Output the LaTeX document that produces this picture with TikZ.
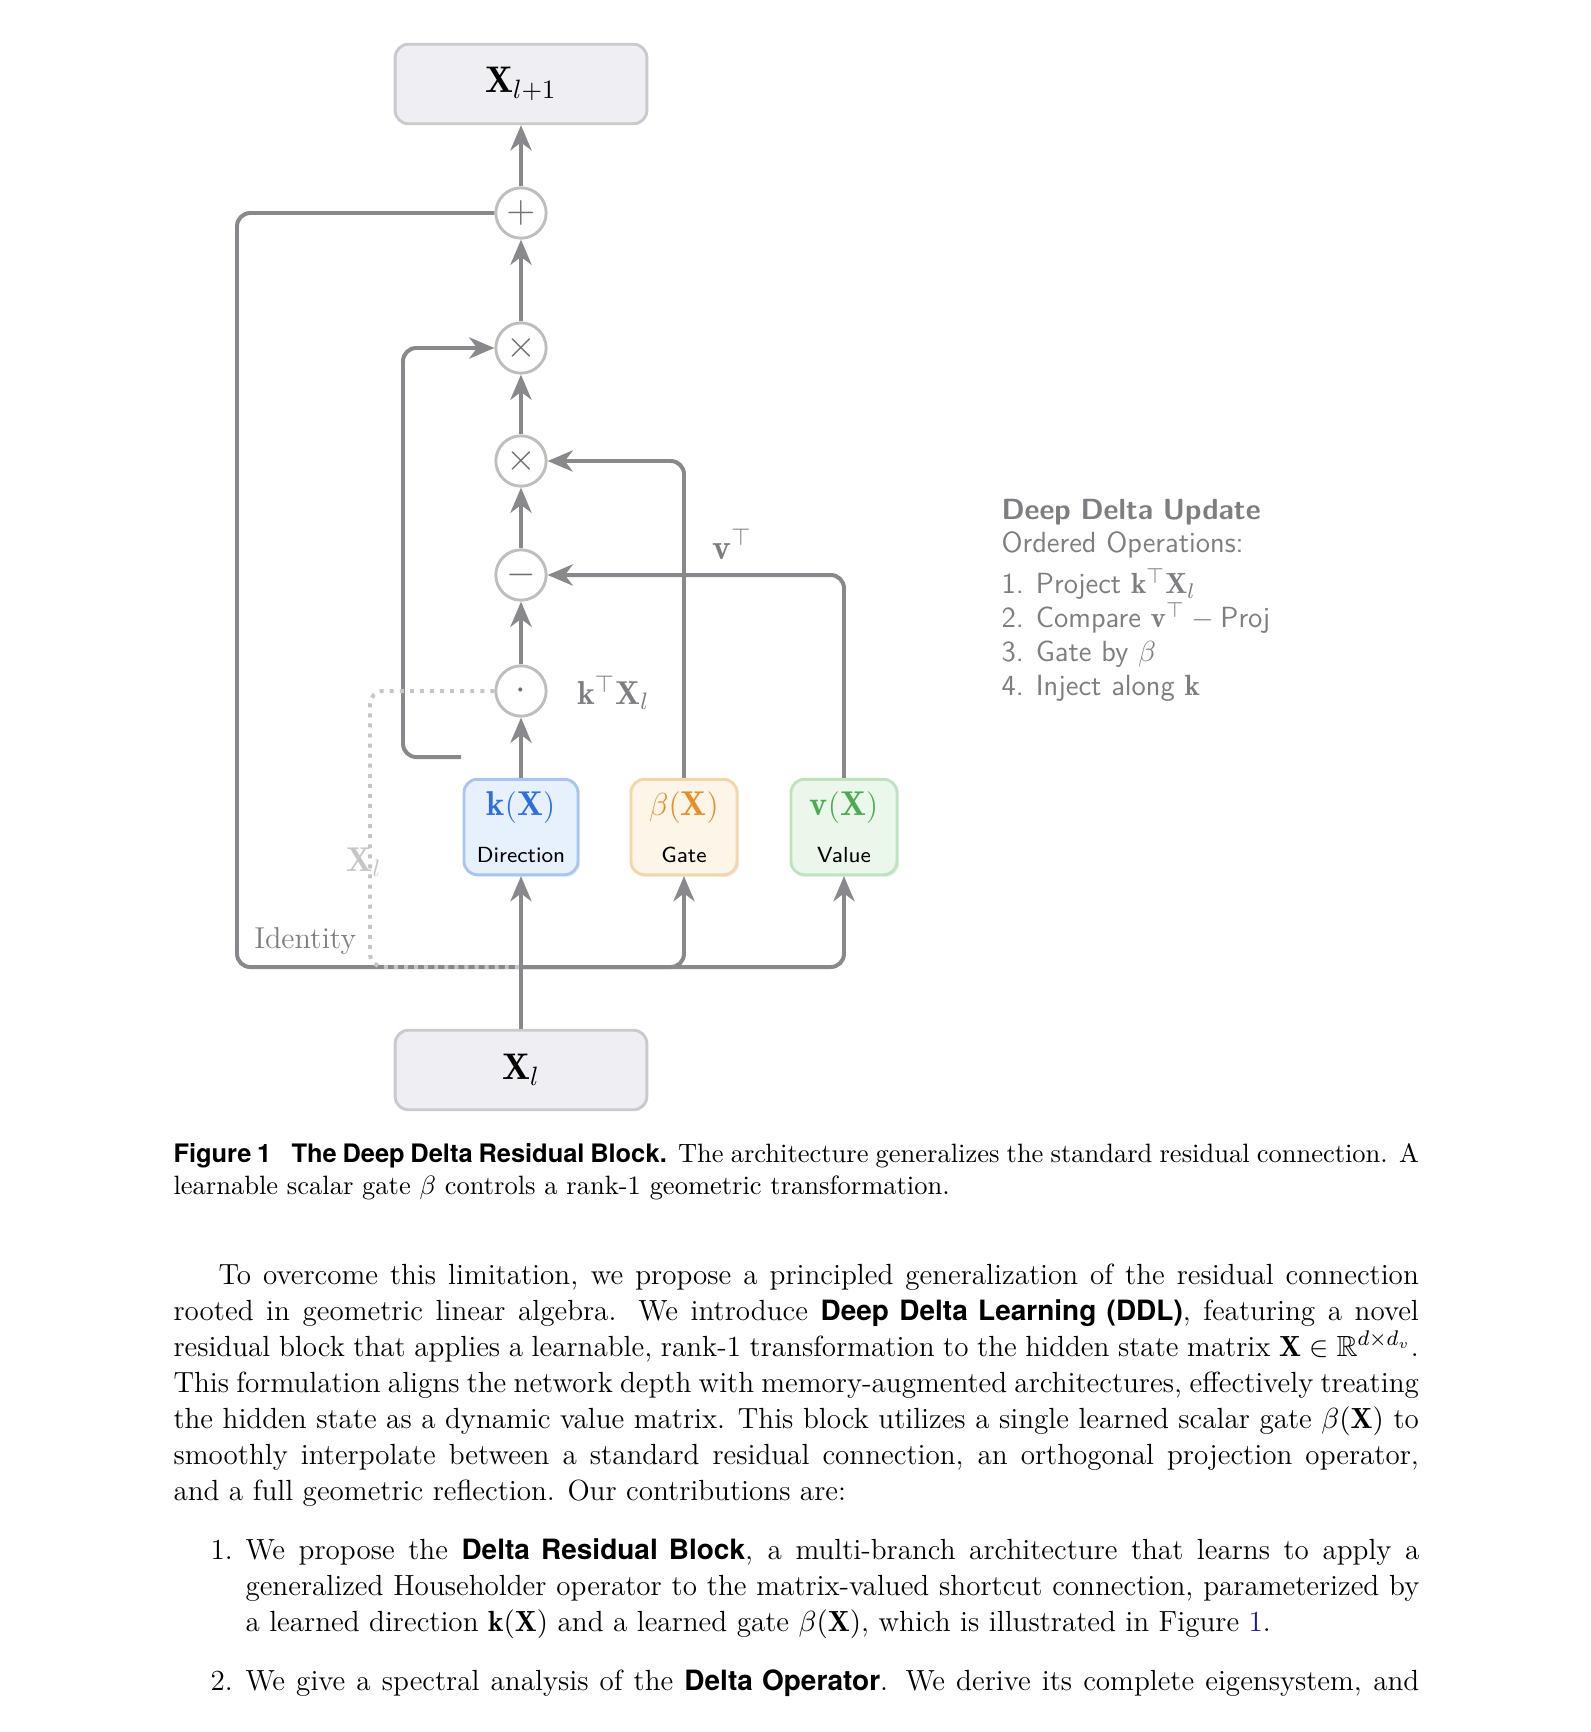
\documentclass[tikz,border=0pt]{standalone}
\usepackage{amsmath, amssymb}
\usepackage{fontspec}
\newfontfamily\heros[Scale=0.96]{TeX Gyre Heros}
\usetikzlibrary{arrows.meta, shadows}

\definecolor{lineg}{RGB}{136,136,141}
\definecolor{ringg}{RGB}{190,190,192}
\definecolor{opg}{RGB}{112,112,116}
\definecolor{boxfill}{RGB}{239,239,243}
\definecolor{boxline}{RGB}{202,202,206}
\definecolor{dirblue}{RGB}{45,110,228}
\definecolor{dirfill}{RGB}{231,240,253}
\definecolor{dirline}{RGB}{168,197,240}
\definecolor{gateorange}{RGB}{232,142,40}
\definecolor{gatefill}{RGB}{253,245,232}
\definecolor{gateline}{RGB}{244,214,170}
\definecolor{valgreen}{RGB}{76,172,80}
\definecolor{valfill}{RGB}{235,247,235}
\definecolor{valline}{RGB}{190,227,190}
\definecolor{labelg}{RGB}{126,126,130}
\definecolor{faintg}{RGB}{198,198,200}
\definecolor{linkblue}{RGB}{28,28,140}

\tikzset{
  statebox/.style={draw=boxline, fill=boxfill, line width=1.1pt, rounded corners=5pt,
    minimum width=95pt, minimum height=30pt, font=\fontsize{14}{16}\selectfont},
  opnode/.style={circle, draw=ringg, fill=white, line width=1.1pt, minimum size=19pt,
    inner sep=0pt, text=opg, font=\fontsize{14}{16}\selectfont},
  branch/.style={rounded corners=5pt, line width=1.1pt, minimum width=40pt, minimum height=36pt,
    text width=38pt, align=center, inner sep=1pt, font=\fontsize{13}{14}\selectfont,
    drop shadow={shadow xshift=0.8pt, shadow yshift=-0.8pt, opacity=0.15}},
  flow/.style={draw=lineg, line width=1.5pt, rounded corners=5pt,
    -{Stealth[length=9.5pt, width=8pt, inset=3pt]}},
  wire/.style={draw=lineg, line width=1.5pt, rounded corners=5pt},
  dotskip/.style={draw=faintg, line width=1.5pt, rounded corners=5pt, dash pattern=on 1.5pt off 2.3pt},
  tag/.style={text=labelg, font=\fontsize{12.5}{14}\selectfont},
  prose/.style={anchor=base west, inner sep=0pt, align=justify},
}

\begin{document}
\begin{tikzpicture}[x=0.3774pt, y=-0.3774pt]
  \useasboundingbox (0,0) rectangle (1590,1732);

  % block in / out and the chain of operations
  \node[statebox] (xout) at (521,84) {$\mathbf{X}_{l+1}$};
  \node[statebox] (xin) at (521,1070) {$\mathbf{X}_{l}$};
  \node[opnode] (add) at (521,213) {$+$};
  \node[opnode] (inj) at (521,348) {$\times$};
  \node[opnode] (gate) at (521,461) {$\times$};
  \node[opnode] (cmp) at (521,575) {$-$};
  \node[opnode] (proj) at (521,691) {$\cdot$};

  % branches
  \node[branch, draw=dirline, fill=dirfill, minimum width=43pt] (kx) at (521,827)
    {{\color{dirblue}$\mathbf{k}(\mathbf{X})$}\\[3.7pt]{\sffamily\fontsize{8.25}{9}\selectfont Direction}};
  \node[branch, draw=gateline, fill=gatefill] (bx) at (684,827)
    {{\color{gateorange}$\beta(\mathbf{X})$}\\[3.7pt]{\sffamily\fontsize{8.25}{9}\selectfont Gate}};
  \node[branch, draw=valline, fill=valfill] (vx) at (844,827)
    {{\color{valgreen}$\mathbf{v}(\mathbf{X})$}\\[3.7pt]{\sffamily\fontsize{8.25}{9}\selectfont Value}};

  \coordinate (split) at (521,967);
  \coordinate (idturn) at (237,213);
  \coordinate (kfork) at (461,757);
  \coordinate (loopturn) at (403,348);
  \coordinate (dotturn) at (370,967);

  % connectors
  \draw[flow] (xin) -- (kx);
  \draw[wire] (split) -| (idturn) -- (add);
  \draw[flow] (split) -| (bx);
  \draw[flow] (split) -| (vx);
  \draw[flow] (kx) -- (proj);
  \draw[flow] (proj) -- (cmp);
  \draw[flow] (cmp) -- (gate);
  \draw[flow] (gate) -- (inj);
  \draw[flow] (inj) -- (add);
  \draw[flow] (add) -- (xout);
  \draw[flow] (bx) |- (gate);
  \draw[flow] (vx) |- (cmp);
  \draw[flow] (kfork) -| (loopturn) -- (inj);
  \draw[dotskip] (proj) -| (dotturn) -- (split);

  % labels
  \node[tag, font=\fontsize{13.5}{15}\selectfont] (vlabel) at (732,544) {$\mathbf{v}^\top$};
  \node[tag, anchor=west] (klabel) at (568,693) {$\mathbf{k}^\top\mathbf{X}_l$};
  \node[tag, text=faintg, font=\fontsize{13}{15}\selectfont] (xlabel) at (364,862) {$\mathbf{X}_l$};
  \node[tag, anchor=west, font=\fontsize{11.4}{13}\selectfont] (idlabel) at (245,941) {Identity};

  \node[anchor=base west, inner sep=0pt, text width=200pt, align=left, text=labelg,
    font=\sffamily\fontsize{11}{12.8}\selectfont] (steps) at (1001,519)
    {\textbf{Deep Delta Update}\\
     Ordered Operations:\\[2.6pt]
     \makebox[13pt][l]{1.}Project $\mathbf{k}^\top\mathbf{X}_l$\\
     \makebox[13pt][l]{2.}Compare $\mathbf{v}^\top - \text{Proj}$\\
     \makebox[13pt][l]{3.}Gate by $\beta$\\
     \makebox[13pt][l]{4.}Inject along $\mathbf{k}$};

  % caption and running text
  \node[prose, text width=470pt, font=\fontsize{10}{12.4}\selectfont] (caption) at (173,1162)
    {{\heros\bfseries Figure 1\hspace{0.8em}The Deep Delta Residual Block.} The architecture generalizes the standard residual connection. A\linebreak
     learnable scalar gate $\beta$ controls a rank-1 geometric transformation.};

  \node[prose, text width=470pt, font=\fontsize{11}{13.6}\selectfont] (para) at (173,1284)
    {\hspace*{17pt}To overcome this limitation, we propose a principled generalization of the residual connection\linebreak
     rooted in geometric linear algebra. We introduce {\heros\bfseries Deep Delta Learning (DDL)}, featuring a novel\linebreak
     residual block that applies a learnable, rank-1 transformation to the hidden state matrix $\mathbf{X}\in\mathbb{R}^{d\times d_v}$.\linebreak
     This formulation aligns the network depth with memory-augmented architectures, effectively treating\linebreak
     the hidden state as a dynamic value matrix. This block utilizes a single learned scalar gate $\beta(\mathbf{X})$ to\linebreak
     smoothly interpolate between a standard residual connection, an orthogonal projection operator,\linebreak
     and a full geometric reflection. Our contributions are:};

  \node[prose, font=\fontsize{11}{13.6}\selectfont] (num1) at (210,1559) {1.};
  \node[prose, text width=443pt, font=\fontsize{11}{13.6}\selectfont] (item1) at (245,1559)
    {We propose the {\heros\bfseries Delta Residual Block}, a multi-branch architecture that learns to apply a\linebreak
     generalized Householder operator to the matrix-valued shortcut connection, parameterized by\linebreak
     a learned direction $\mathbf{k}(\mathbf{X})$ and a learned gate $\beta(\mathbf{X})$, which is illustrated in Figure {\color{linkblue}1}.};
  \node[prose, font=\fontsize{11}{13.6}\selectfont] (num2) at (210,1690) {2.};
  \node[prose, text width=443pt, font=\fontsize{11}{13.6}\selectfont] (item2) at (245,1690)
    {We give a spectral analysis of the {\heros\bfseries Delta Operator}. We derive its complete eigensystem, and\unskip\parfillskip=0pt\par};
\end{tikzpicture}
\end{document}
